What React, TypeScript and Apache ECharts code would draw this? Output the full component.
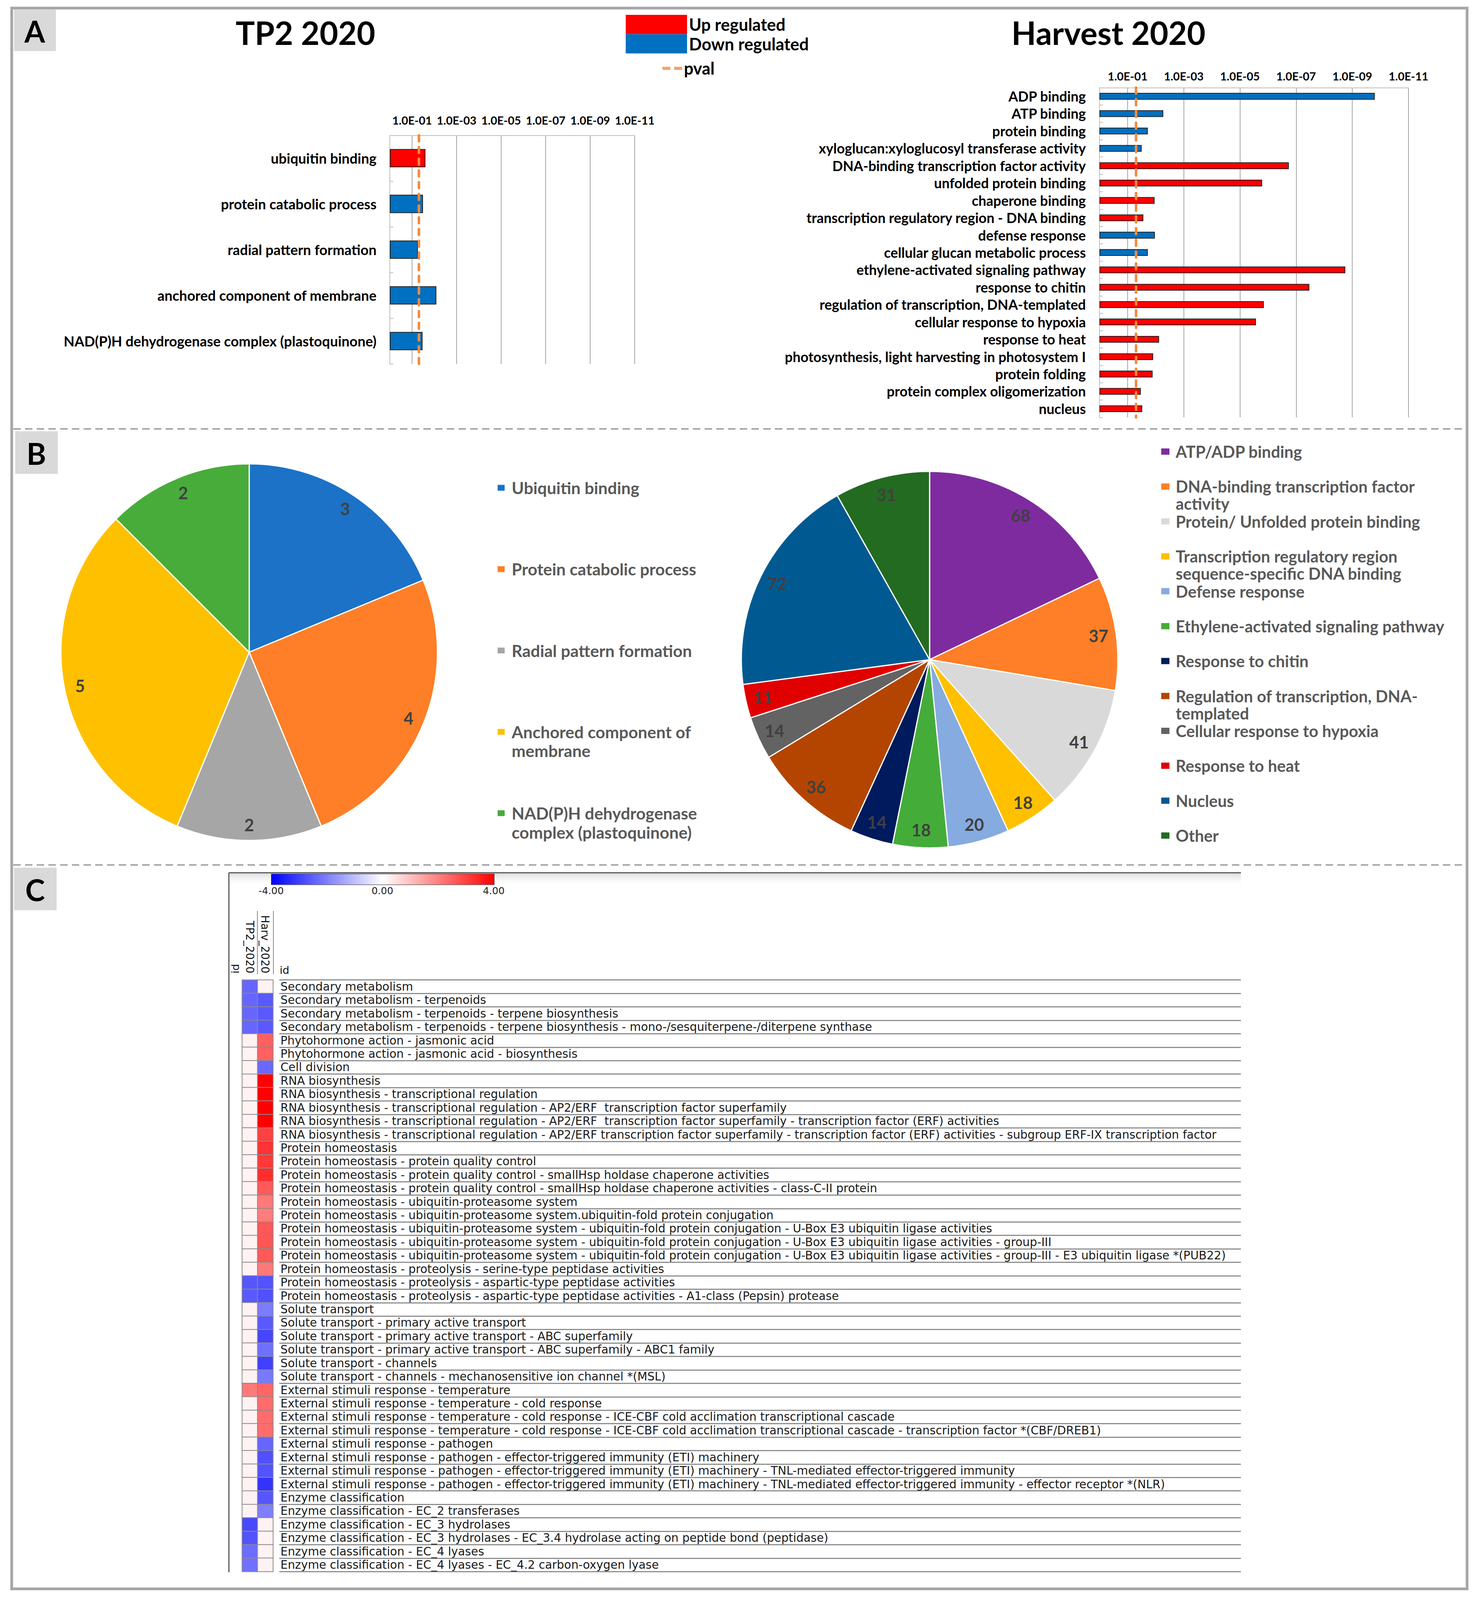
import React, { useEffect, useRef } from 'react';
import * as echarts from 'echarts';

// The browser viewport is capped at 4096 px tall, so the 4730-px-tall figure is laid out
// with its vertical positions scaled to fit (horizontal positions kept 1:1).
const W = 3784;
const H = 4096;
const SY = H / 4730;
const Y = (v: number) => v * SY;
const FONT_A = 'Lato, "Open Sans", sans-serif';
const FONT_C = '"DejaVu Sans", sans-serif';

// ---------- Panel A data (bar length = -log10(p)) ----------
const tp2Categories = [
  'ubiquitin binding',
  'protein catabolic process',
  'radial pattern formation',
  'anchored component of membrane',
  'NAD(P)H dehydrogenase complex (plastoquinone)',
];
const tp2Values = [1.6, 1.49, 1.26, 2.09, 1.47];
const tp2Direction = ['up', 'down', 'down', 'down', 'down'];

const harvCategories = [
  'ADP binding',
  'ATP binding',
  'protein binding',
  'xyloglucan:xyloglucosyl transferase activity',
  'DNA-binding transcription factor activity',
  'unfolded protein binding',
  'chaperone binding',
  'transcription regulatory region - DNA binding',
  'defense response',
  'cellular glucan metabolic process',
  'ethylene-activated signaling pathway',
  'response to chitin',
  'regulation of transcription, DNA-templated',
  'cellular response to hypoxia',
  'response to heat',
  'photosynthesis, light harvesting in photosystem I',
  'protein folding',
  'protein complex oligomerization',
  'nucleus',
];
const harvValues = [9.8, 2.27, 1.72, 1.5, 6.74, 5.79, 1.96, 1.56, 1.97, 1.72, 8.75, 7.47, 5.85, 5.57, 2.12, 1.91, 1.89, 1.47, 1.52];
const harvDirection = ['down', 'down', 'down', 'down', 'up', 'up', 'up', 'up', 'down', 'down', 'up', 'up', 'up', 'up', 'up', 'up', 'up', 'up', 'up'];

const pThreshold = 1.301; // -log10(0.05)
const axisTickValues = [1, 3, 5, 7, 9, 11];
const axisTickLabels = ['1.0E-01', '1.0E-03', '1.0E-05', '1.0E-07', '1.0E-09', '1.0E-11'];

// ---------- Panel B data ----------
const tp2PieNames = [
  'Ubiquitin binding',
  'Protein catabolic process',
  'Radial pattern formation',
  'Anchored component of membrane',
  'NAD(P)H dehydrogenase complex (plastoquinone)',
];
const tp2PieValues = [3, 4, 2, 5, 2];
const tp2PieColors = ['#1b72c7', '#fe7f27', '#a6a6a6', '#ffc000', '#48ac3b'];

const harvPieNames = [
  'ATP/ADP binding',
  'DNA-binding transcription factor activity',
  'Protein/ Unfolded protein binding',
  'Transcription regulatory region sequence-specific DNA binding',
  'Defense response',
  'Ethylene-activated signaling pathway',
  'Response to chitin',
  'Regulation of transcription, DNA-templated',
  'Cellular response to hypoxia',
  'Response to heat',
  'Nucleus',
  'Other',
];
const harvPieValues = [68, 37, 41, 18, 20, 18, 14, 36, 14, 11, 72, 31];
const harvPieColors = ['#7f2ba0', '#fe7f27', '#d9d9d9', '#ffc000', '#86abe0', '#44ad3a', '#001a5e', '#b34500', '#636363', '#e00000', '#005a91', '#236b21'];

const legendWrap: Record<string, string> = {
  'Anchored component of membrane': 'Anchored component of\nmembrane',
  'NAD(P)H dehydrogenase complex (plastoquinone)': 'NAD(P)H dehydrogenase\ncomplex (plastoquinone)',
  'DNA-binding transcription factor activity': 'DNA-binding transcription factor\nactivity',
  'Transcription regulatory region sequence-specific DNA binding': 'Transcription regulatory region\nsequence-specific DNA binding',
  'Regulation of transcription, DNA-templated': 'Regulation of transcription, DNA-\ntemplated',
};

// ---------- Panel C data ----------
const heatColumns = ['TP2_2020', 'Harv_2020'];
const heatRows = [
  'Secondary metabolism',
  'Secondary metabolism - terpenoids',
  'Secondary metabolism - terpenoids - terpene biosynthesis',
  'Secondary metabolism - terpenoids - terpene biosynthesis - mono-/sesquiterpene-/diterpene synthase',
  'Phytohormone action - jasmonic acid',
  'Phytohormone action - jasmonic acid - biosynthesis',
  'Cell division',
  'RNA biosynthesis',
  'RNA biosynthesis - transcriptional regulation',
  'RNA biosynthesis - transcriptional regulation - AP2/ERF  transcription factor superfamily',
  'RNA biosynthesis - transcriptional regulation - AP2/ERF  transcription factor superfamily - transcription factor (ERF) activities',
  'RNA biosynthesis - transcriptional regulation - AP2/ERF transcription factor superfamily - transcription factor (ERF) activities - subgroup ERF-IX transcription factor',
  'Protein homeostasis',
  'Protein homeostasis - protein quality control',
  'Protein homeostasis - protein quality control - smallHsp holdase chaperone activities',
  'Protein homeostasis - protein quality control - smallHsp holdase chaperone activities - class-C-II protein',
  'Protein homeostasis - ubiquitin-proteasome system',
  'Protein homeostasis - ubiquitin-proteasome system.ubiquitin-fold protein conjugation',
  'Protein homeostasis - ubiquitin-proteasome system - ubiquitin-fold protein conjugation - U-Box E3 ubiquitin ligase activities',
  'Protein homeostasis - ubiquitin-proteasome system - ubiquitin-fold protein conjugation - U-Box E3 ubiquitin ligase activities - group-III',
  'Protein homeostasis - ubiquitin-proteasome system - ubiquitin-fold protein conjugation - U-Box E3 ubiquitin ligase activities - group-III - E3 ubiquitin ligase *(PUB22)',
  'Protein homeostasis - proteolysis - serine-type peptidase activities',
  'Protein homeostasis - proteolysis - aspartic-type peptidase activities',
  'Protein homeostasis - proteolysis - aspartic-type peptidase activities - A1-class (Pepsin) protease',
  'Solute transport',
  'Solute transport - primary active transport',
  'Solute transport - primary active transport - ABC superfamily',
  'Solute transport - primary active transport - ABC superfamily - ABC1 family',
  'Solute transport - channels',
  'Solute transport - channels - mechanosensitive ion channel *(MSL)',
  'External stimuli response - temperature',
  'External stimuli response - temperature - cold response',
  'External stimuli response - temperature - cold response - ICE-CBF cold acclimation transcriptional cascade',
  'External stimuli response - temperature - cold response - ICE-CBF cold acclimation transcriptional cascade - transcription factor *(CBF/DREB1)',
  'External stimuli response - pathogen',
  'External stimuli response - pathogen - effector-triggered immunity (ETI) machinery',
  'External stimuli response - pathogen - effector-triggered immunity (ETI) machinery - TNL-mediated effector-triggered immunity',
  'External stimuli response - pathogen - effector-triggered immunity (ETI) machinery - TNL-mediated effector-triggered immunity - effector receptor *(NLR)',
  'Enzyme classification',
  'Enzyme classification - EC_2 transferases',
  'Enzyme classification - EC_3 hydrolases',
  'Enzyme classification - EC_3 hydrolases - EC_3.4 hydrolase acting on peptide bond (peptidase)',
  'Enzyme classification - EC_4 lyases',
  'Enzyme classification - EC_4 lyases - EC_4.2 carbon-oxygen lyase',
];
const heatTP2 = [
  -2.4, -2.4, -2.4, -2.4,
  0.2, 0.2, 0.2,
  0.2, 0.2, 0.2, 0.2, 0.2,
  0.2, 0.2, 0.2, 0.2, 0.2, 0.2, 0.2, 0.2, 0.2, 0.2,
  -2.65, -2.6,
  0.2, 0.2, 0.2, 0.2, 0.2, 0.2,
  2.1, 0.2, 0.2, 0.2,
  0.2, 0.2, 0.2, 0.2,
  0.2, 0.2,
  -2.85, -2.7, -2.3, -2.25,
];
const heatHarv = [
  0.2, -2.6, -2.6, -2.6,
  2.5, 2.5, -2.35,
  4.0, 4.0, 4.0, 4.0, 3.0,
  3.2, 3.1, 3.3, 2.6, 2.1, 2.05, 2.65, 2.65, 2.6, 2.1,
  -2.7, -2.75,
  -2.05, -2.6, -2.9, -2.25, -3.0, -2.1,
  2.4, 2.3, 2.3, 2.3,
  -2.4, -2.75, -2.7, -3.2,
  -2.65, -2.0,
  0.2, 0.2, 0.2, 0.2,
];
const colorbarTicks = [-4, 0, 4];

function buildOption(): any {
  const tp2Up = tp2Values.map((v, i) => (tp2Direction[i] === 'up' ? v : '-'));
  const tp2Down = tp2Values.map((v, i) => (tp2Direction[i] === 'down' ? v : '-'));
  const harvUp = harvValues.map((v, i) => (harvDirection[i] === 'up' ? v : '-'));
  const harvDown = harvValues.map((v, i) => (harvDirection[i] === 'down' ? v : '-'));

  const pAxis = (gridIndex: number, margin: number) => ({
    type: 'value',
    gridIndex,
    min: 0,
    max: 11,
    position: 'top',
    axisLine: { show: true, lineStyle: { color: '#bfbfbf', width: 2 } },
    axisTick: { show: false, customValues: axisTickValues },
    axisLabel: {
      customValues: axisTickValues,
      formatter: (v: number) => axisTickLabels[axisTickValues.indexOf(v)] ?? '',
      fontFamily: FONT_A,
      fontSize: 29,
      fontWeight: 'bold',
      color: '#000',
      margin,
    },
    splitLine: { show: true, lineStyle: { color: '#a6a6a6', width: 2 } },
  });

  const catAxis = (gridIndex: number, data: string[], margin: number, size: number) => ({
    type: 'category',
    gridIndex,
    data,
    inverse: true,
    axisLine: { show: true, lineStyle: { color: '#bfbfbf', width: 2 } },
    axisTick: { show: true, inside: true, length: 9, lineStyle: { color: '#bfbfbf', width: 2 } },
    axisLabel: { interval: 0, fontFamily: FONT_A, fontSize: size, fontWeight: 'bold', color: '#000', margin },
    splitLine: { show: false },
  });

  const barStyle = (color: string) => ({ color, borderColor: '#1f1f1f', borderWidth: 2 });

  const pvalLine = {
    silent: true,
    symbol: ['none', 'none'],
    label: { show: false },
    lineStyle: { color: '#f58a3c', width: 6.5, type: [15, 15], cap: 'round' },
    emphasis: { disabled: true },
    data: [{ xAxis: pThreshold }],
  };

  const pieLabel = {
    show: true,
    position: 'inside',
    formatter: '{c}',
    fontFamily: FONT_A,
    fontSize: 43,
    fontWeight: 'bold',
    color: '#404040',
  };

  // one legend component per entry, so that wrapped entries keep Excel's fixed pitch;
  // wrapped entries get a leading empty line so that their first line sits on the marker
  const pieLegends = (
    names: string[],
    left: number,
    firstCenter: number,
    pitch: number,
    lh: number,
    size: number,
    padLeft: number,
    iw: number,
    ih: number,
  ) =>
    names.map((n, i) => {
      const twoLine = legendWrap[n] != null;
      const center = firstCenter + i * pitch;
      return {
        data: [n],
        orient: 'vertical',
        left,
        top: center - (twoLine ? 1.5 * lh : 0.5 * lh),
        itemWidth: iw,
        itemHeight: ih,
        icon: 'rect',
        padding: 0,
        selectedMode: false,
        formatter: (x: string) => (legendWrap[x] != null ? '\n' + legendWrap[x] : x),
        textStyle: {
          fontFamily: FONT_A,
          fontSize: size,
          fontWeight: 'bold',
          color: '#595959',
          lineHeight: lh,
          padding: [0, 0, 0, padLeft],
        },
      };
    });

  const textEl = (text: string, x: number, y: number, size: number, opts: any = {}) => ({
    type: 'text',
    x,
    y,
    silent: true,
    rotation: opts.rotation ?? 0,
    style: {
      text,
      fontFamily: opts.family ?? FONT_A,
      fontSize: size,
      fontWeight: opts.weight ?? 'bold',
      fill: opts.fill ?? '#000',
      align: opts.align ?? 'center',
      verticalAlign: opts.valign ?? 'middle',
    },
  });

  const lineEl = (x1: number, y1: number, x2: number, y2: number, stroke: string, lineWidth: number, dash?: number[]) => ({
    type: 'line',
    silent: true,
    shape: { x1, y1, x2, y2 },
    style: { stroke, lineWidth, lineDash: dash },
  });

  const pieR = 482;
  const heatTop = Y(2897);
  const heatH = Y(4646) - Y(2897);

  return {
    animation: false,
    backgroundColor: '#ffffff',
    grid: [
      { left: 998, top: Y(400), width: 627, height: Y(1076) - Y(400) },
      { left: 2815, top: Y(259), width: 791, height: Y(1234) - Y(259) },
      { left: 620, top: heatTop, width: 79, height: heatH },
      { left: 715, top: heatTop, width: 2462, height: heatH },
      { left: 694, top: Y(2583), width: 570, height: Y(2614) - Y(2583) },
    ],
    xAxis: [
      pAxis(0, 24),
      pAxis(1, 15),
      {
        type: 'category',
        gridIndex: 2,
        data: heatColumns,
        position: 'top',
        axisLine: { show: false },
        axisTick: { show: false },
        axisLabel: { interval: 0, rotate: 90, margin: 17, fontFamily: FONT_C, fontSize: 27.5, color: '#111' },
      },
      { type: 'value', gridIndex: 3, show: false },
      {
        type: 'value',
        gridIndex: 4,
        min: -4,
        max: 4,
        position: 'bottom',
        axisLine: { show: false },
        axisTick: { show: false },
        splitLine: { show: false },
        axisLabel: {
          customValues: colorbarTicks,
          showMinLabel: true,
          showMaxLabel: true,
          formatter: (v: number) => v.toFixed(2),
          fontFamily: FONT_C,
          fontSize: 25,
          color: '#222',
          margin: 4,
        },
      },
    ],
    yAxis: [
      catAxis(0, tp2Categories, 34, 36),
      catAxis(1, harvCategories, 35, 35.5),
      {
        type: 'category',
        gridIndex: 2,
        data: heatRows,
        inverse: true,
        position: 'right',
        axisLine: { show: false },
        axisTick: { show: false },
        axisLabel: { interval: 0, margin: 19, fontFamily: FONT_C, fontSize: 29.5, color: '#1a1a1a' },
      },
      {
        type: 'category',
        gridIndex: 3,
        data: heatRows,
        inverse: true,
        axisLine: { show: false },
        axisTick: { show: false },
        axisLabel: { show: false },
        splitLine: { show: true, interval: 0, lineStyle: { color: '#8f8f8f', width: 3 } },
      },
      { type: 'value', gridIndex: 4, show: false },
    ],
    visualMap: {
      type: 'continuous',
      seriesIndex: 10,
      dimension: 2,
      min: -4,
      max: 4,
      orient: 'horizontal',
      left: 694,
      top: Y(2583),
      itemWidth: Y(2614) - Y(2583),
      itemHeight: 570,
      calculable: false,
      hoverLink: false,
      padding: 0,
      borderColor: '#333',
      borderWidth: 2,
      inRange: { color: ['#0000ff', '#ffffff', '#ff0000'] },
    },
    legend: [
      {
        data: ['Up regulated', 'Down regulated'],
        orient: 'vertical',
        left: 1602,
        top: Y(44),
        itemWidth: 157,
        itemHeight: Y(101) - Y(44),
        itemGap: 0,
        icon: 'rect',
        padding: 0,
        selectedMode: false,
        itemStyle: { borderWidth: 0 },
        textStyle: { fontFamily: FONT_A, fontSize: 43, fontWeight: 'bold', color: '#000' },
      },
      {
        data: ['pval'],
        left: 1696,
        top: Y(202) - 26,
        itemWidth: 50,
        itemHeight: 9,
        icon: 'path://M0,0H20V8H0Z M30,0H50V8H30Z',
        padding: 0,
        selectedMode: false,
        textStyle: { fontFamily: FONT_A, fontSize: 43, fontWeight: 'bold', color: '#000', lineHeight: 52 },
      },
      ...pieLegends(tp2PieNames, 1272, Y(1442), Y(240.5), Y(56), 42.5, 12, 20, 17),
      ...pieLegends(harvPieNames, 2971, Y(1335), Y(103.2), 44, 41.5, 10, 23, 18),
    ],
    series: [
      { type: 'bar', name: 'Up regulated', xAxisIndex: 0, yAxisIndex: 0, stack: 'tp2', barWidth: Y(54), data: tp2Up, itemStyle: barStyle('#ff0000'), emphasis: { disabled: true } },
      { type: 'bar', name: 'Down regulated', xAxisIndex: 0, yAxisIndex: 0, stack: 'tp2', barWidth: Y(54), data: tp2Down, itemStyle: barStyle('#0070c0'), emphasis: { disabled: true } },
      { type: 'scatter', name: 'pval', xAxisIndex: 0, yAxisIndex: 0, data: [], itemStyle: { color: '#f58a3c' }, markLine: pvalLine, z: 5 },
      { type: 'bar', name: 'Up regulated', xAxisIndex: 1, yAxisIndex: 1, stack: 'harv', barWidth: Y(20), data: harvUp, itemStyle: barStyle('#ff0000'), emphasis: { disabled: true } },
      { type: 'bar', name: 'Down regulated', xAxisIndex: 1, yAxisIndex: 1, stack: 'harv', barWidth: Y(20), data: harvDown, itemStyle: barStyle('#0070c0'), emphasis: { disabled: true } },
      { type: 'scatter', name: 'pval', xAxisIndex: 1, yAxisIndex: 1, data: [], itemStyle: { color: '#f58a3c' }, markLine: pvalLine, z: 5 },
      {
        type: 'pie',
        name: 'TP2 pie',
        center: [638, Y(1928)],
        radius: [0, pieR],
        startAngle: 90,
        clockwise: true,
        data: tp2PieNames.map((n, i) => ({ name: n, value: tp2PieValues[i], itemStyle: { color: tp2PieColors[i] } })),
        label: { show: false },
        labelLine: { show: false },
        itemStyle: { borderColor: '#ffffff', borderWidth: 3 },
        emphasis: { disabled: true },
      },
      {
        type: 'pie',
        name: 'TP2 pie labels',
        center: [638, Y(1928)],
        radius: [pieR * 0.82, pieR],
        startAngle: 90,
        clockwise: true,
        silent: true,
        data: tp2PieNames.map((n, i) => ({ name: n, value: tp2PieValues[i] })),
        itemStyle: { color: 'rgba(0,0,0,0)', borderWidth: 0 },
        label: pieLabel,
        labelLine: { show: false },
        emphasis: { disabled: true },
      },
      {
        type: 'pie',
        name: 'Harvest pie',
        center: [2380, Y(1950)],
        radius: [0, pieR],
        startAngle: 90,
        clockwise: true,
        data: harvPieNames.map((n, i) => ({ name: n, value: harvPieValues[i], itemStyle: { color: harvPieColors[i] } })),
        label: { show: false },
        labelLine: { show: false },
        itemStyle: { borderColor: '#ffffff', borderWidth: 3 },
        emphasis: { disabled: true },
      },
      {
        type: 'pie',
        name: 'Harvest pie labels',
        center: [2380, Y(1950)],
        radius: [pieR * 0.8, pieR],
        startAngle: 90,
        clockwise: true,
        silent: true,
        data: harvPieNames.map((n, i) => ({ name: n, value: harvPieValues[i] })),
        itemStyle: { color: 'rgba(0,0,0,0)', borderWidth: 0 },
        label: pieLabel,
        labelLine: { show: false },
        emphasis: { disabled: true },
      },
      {
        type: 'heatmap',
        name: 'log2FC',
        xAxisIndex: 2,
        yAxisIndex: 2,
        data: heatRows.flatMap((_, i) => [
          [0, i, heatTP2[i]],
          [1, i, heatHarv[i]],
        ]),
        itemStyle: { borderColor: '#8a8a8a', borderWidth: 2 },
        emphasis: { disabled: true },
      },
    ],
    graphic: [
      { type: 'rect', silent: true, shape: { x: 30, y: Y(24), width: 3726, height: Y(4697) - Y(24) }, style: { fill: 'none', stroke: '#a6a6a6', lineWidth: 7 } },
      lineEl(34, Y(1268), 3752, Y(1268), '#a6a6a6', 4, [19, 11]),
      lineEl(34, Y(2557), 3752, Y(2557), '#a6a6a6', 4, [19, 11]),
      { type: 'rect', silent: true, shape: { x: 36, y: Y(28), width: 107, height: Y(151) - Y(28) }, style: { fill: '#d9d9d9' } },
      textEl('A', 89, Y(92), 76),
      { type: 'rect', silent: true, shape: { x: 39, y: Y(1275), width: 109, height: Y(1401) - Y(1275) }, style: { fill: '#d9d9d9' } },
      textEl('B', 93, Y(1340), 76),
      { type: 'rect', silent: true, shape: { x: 36, y: Y(2565), width: 109, height: Y(2691) - Y(2565) }, style: { fill: '#d9d9d9' } },
      textEl('C', 90, Y(2630), 76),
      textEl('TP2 2020', 782, Y(96), 82),
      textEl('Harvest 2020', 2838, Y(96), 82),
      {
        type: 'rect',
        silent: true,
        shape: { x: 588, y: Y(2582), width: 2589, height: 34 },
        style: {
          fill: new echarts.graphic.LinearGradient(0, 0, 0, 1, [
            { offset: 0, color: '#dddddd' },
            { offset: 1, color: 'rgba(255,255,255,0)' },
          ]),
        },
      },
      lineEl(586, Y(2580), 3177, Y(2580), '#555555', 3),
      lineEl(586, Y(2580), 586, Y(4648), '#555555', 3),
      lineEl(659, Y(2693), 659, Y(2880), '#8a8a8a', 2),
      lineEl(700, Y(2693), 700, Y(2880), '#8a8a8a', 2),
      textEl('id', 602, Y(2878), 27, { family: FONT_C, weight: 'normal', fill: '#111', align: 'left', rotation: Math.PI / 2 }),
      textEl('id', 716, Y(2868), 27, { family: FONT_C, weight: 'normal', fill: '#111', align: 'left' }),
    ],
  };
}

export default function App() {
  const ref = useRef<HTMLDivElement>(null);
  useEffect(() => {
    const el = ref.current;
    if (!el) return;
    const chart = echarts.init(el, null, { renderer: 'svg', width: W, height: H });
    chart.setOption(buildOption());
    return () => chart.dispose();
  }, []);
  return (
    <div
      ref={ref}
      style={{ position: 'absolute', left: 0, top: 0, width: W, height: H, background: '#fff', overflow: 'hidden' }}
    />
  );
}
